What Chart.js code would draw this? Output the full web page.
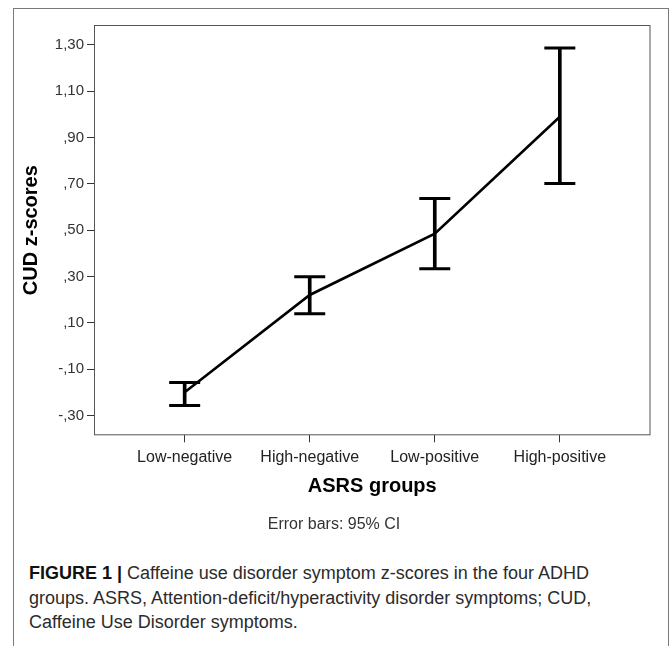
<!DOCTYPE html>
<html lang="en">
<head>
    <meta charset="UTF-8">
    <title>CUD z-scores by ASRS group</title>
    <script src="https://cdn.jsdelivr.net/npm/chart.js"></script>
    <style>
        body { margin: 0; background: #fff; }
        #frame { position: absolute; left: 13px; top: 8px; width: 654px; height: 660px; border: 1px solid #7a7a7a; border-bottom: none; }
        #chartBox { position: absolute; left: 0; top: 0; }
        #caption { position: absolute; left: 29px; top: 561px; font-family: "Liberation Sans", Arial, sans-serif; font-size: 18px; line-height: 24.5px; color: #2b2b2b; white-space: nowrap; }
        #caption b { color: #111; }
    </style>
</head>
<body>
    <div id="frame"></div>
    <canvas id="chartBox" width="669" height="545"></canvas>
    <div id="caption">
        <b>FIGURE 1 |</b> Caffeine use disorder symptom z-scores in the four ADHD<br>
        groups. ASRS, Attention-deficit/hyperactivity disorder symptoms; CUD,<br>
        Caffeine Use Disorder symptoms.
    </div>

    <script>
        // data (group means and 95% CI)
        const categories = ['Low-negative', 'High-negative', 'Low-positive', 'High-positive'];
        const means = [-0.20, 0.22, 0.485, 0.99];
        const ciLower = [-0.257, 0.139, 0.333, 0.702];
        const ciUpper = [-0.158, 0.299, 0.637, 1.287];
        const yTicks = [-0.30, -0.10, 0.10, 0.30, 0.50, 0.70, 0.90, 1.10, 1.30];

        const family = '"Liberation Sans", Arial, sans-serif';

        // SPSS style labels: 1,30  ,90  -,10
        function spssLabel(v) {
            const s = v.toFixed(2).replace('.', ',');
            return s.replace(/^(-?)0,/, '$1,');
        }

        const capPoints = [];
        categories.forEach((c, i) => {
            capPoints.push({ x: i, y: ciLower[i] });
            capPoints.push({ x: i, y: ciUpper[i] });
        });

        // box round the plot area
        const plotFrame = {
            id: 'plotFrame',
            beforeDatasetsDraw(chart) {
                const a = chart.chartArea;
                const ctx = chart.ctx;
                ctx.save();
                ctx.strokeStyle = '#555';
                ctx.lineWidth = 1;
                ctx.strokeRect(a.left + 0.5, a.top + 0.5, a.right - a.left - 1, a.bottom - a.top - 1);
                ctx.restore();
            }
        };

        const ctx = document.getElementById('chartBox').getContext('2d');
        new Chart(ctx, {
            type: 'line',
            data: {
                datasets: [
                    {
                        type: 'line',
                        label: 'Mean',
                        data: means.map((m, i) => ({ x: i, y: m })),
                        borderColor: '#000',
                        borderWidth: 2.6,
                        pointRadius: 0,
                        tension: 0
                    },
                    {
                        type: 'bar',
                        label: '95% CI',
                        data: categories.map((c, i) => ({ x: i, y: [ciLower[i], ciUpper[i]] })),
                        backgroundColor: '#000',
                        borderWidth: 0,
                        barThickness: 3
                    },
                    {
                        type: 'line',
                        label: 'CI caps',
                        data: capPoints,
                        showLine: false,
                        pointStyle: 'line',
                        pointRadius: 15.5,
                        pointHoverRadius: 15.5,
                        pointBorderWidth: 3,
                        pointBorderColor: '#000',
                        pointBackgroundColor: '#000'
                    }
                ]
            },
            options: {
                responsive: false,
                animation: false,
                layout: { padding: { left: 14, top: 25, right: 15, bottom: 0 } },
                plugins: {
                    legend: { display: false },
                    tooltip: { enabled: false },
                    title: {
                        display: true,
                        position: 'bottom',
                        text: 'Error bars: 95% CI',
                        color: '#333',
                        font: { family: family, size: 16, weight: 'normal' },
                        padding: { top: 0, bottom: 10.5 }
                    }
                },
                scales: {
                    x: {
                        type: 'linear',
                        min: -0.725,
                        max: 3.725,
                        offset: false,
                        afterBuildTicks: s => { s.ticks = categories.map((c, i) => ({ value: i })); },
                        afterFit: s => { s.height = 80; },
                        ticks: {
                            callback: v => categories[v],
                            font: { family: family, size: 16 },
                            color: '#222',
                            padding: 6,
                            autoSkip: false,
                            maxRotation: 0
                        },
                        grid: { offset: false, drawOnChartArea: false, tickLength: 7, tickColor: '#333' },
                        border: { display: false },
                        title: {
                            display: true,
                            text: 'ASRS groups',
                            color: '#000',
                            font: { family: family, size: 20, weight: 'bold' },
                            padding: { top: 0, bottom: 16.5 }
                        }
                    },
                    y: {
                        min: -0.386,
                        max: 1.386,
                        afterBuildTicks: s => { s.ticks = yTicks.map(v => ({ value: v })); },
                        afterFit: s => { s.width = 80; },
                        ticks: {
                            callback: v => spssLabel(v),
                            font: { family: family, size: 15 },
                            color: '#333',
                            padding: 3
                        },
                        grid: { drawOnChartArea: false, tickLength: 7, tickColor: '#333' },
                        border: { display: false },
                        title: {
                            display: true,
                            text: 'CUD z-scores',
                            color: '#000',
                            font: { family: family, size: 20, weight: 'bold' },
                            padding: { top: 5.5, bottom: 0 }
                        }
                    }
                }
            },
            plugins: [plotFrame]
        });
    </script>
</body>
</html>
